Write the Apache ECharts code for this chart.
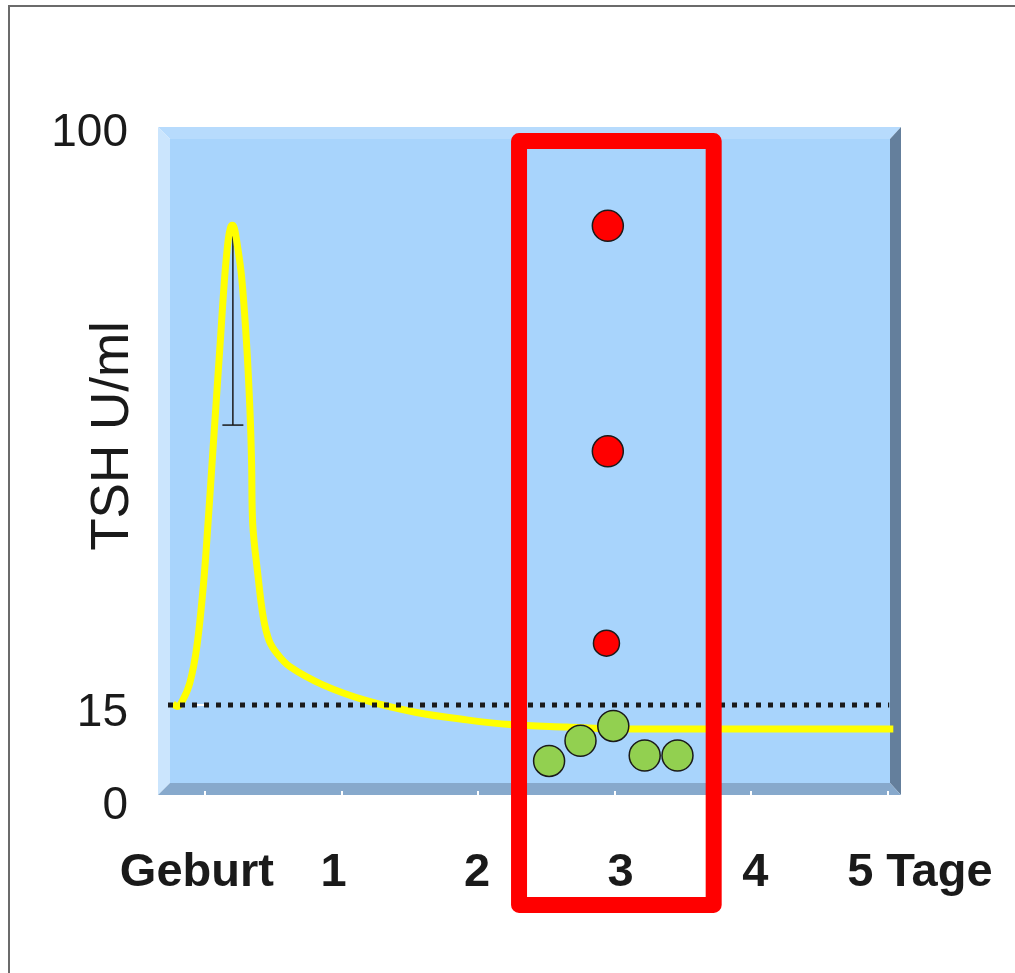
<!DOCTYPE html>
<html><head><meta charset="utf-8">
<script src="https://cdn.jsdelivr.net/npm/echarts@6/dist/echarts.min.js"></script>
<style>html,body{margin:0;padding:0;background:#fff}#c{width:1015px;height:973px}</style>
</head><body><div id="c"></div>
<script>
// ---- data ----
const dayTicks = [0, 1, 2, 3, 4, 5];
const dayLabels = ['Geburt', '1', '2', '3', '4', '5 Tage'];
const yLabelValues = [0, 15, 100];
const limitValue = 15;
const limitX = [-0.27, 5.01];
const curveX = [-0.235, -0.2, -0.16, -0.11, -0.06, -0.01, 0.026, 0.059, 0.112, 0.145, 0.17, 0.187, 0.2, 0.215, 0.235, 0.269, 0.305, 0.33, 0.342, 0.35, 0.39, 0.427, 0.47, 0.53, 0.622, 0.864, 1.184, 1.55, 1.916, 2.233, 2.65, 3.04, 5.04];
const curveY = [15.2, 14.8, 15.8, 18.3, 23.5, 33.0, 42.9, 52.9, 68.8, 78.6, 84.0, 85.9, 86.3, 85.9, 83.7, 78.6, 68.8, 58.8, 51.0, 42.0, 34.0, 28.1, 24.6, 22.6, 20.7, 18.0, 15.65, 13.9, 12.8, 12.1, 11.74, 11.45, 11.45];
const errX = [0.205];
const errHigh = [86.0];
const errLow = [56.6];
const redX = [2.95, 2.95, 2.94];
const redY = [86.2, 52.7, 24.2];
const greenX = [2.52, 2.75, 2.99, 3.22, 3.46];
const greenY = [6.7, 9.7, 11.9, 7.5, 7.5];
const boxDays = [2.30, 3.725];
const boxValues = [98.8, -14.7];

// ---- styles ----
const redSizes = [31, 31, 26];
const labelShift = [-8, -8, -1, 6, 4, 32];
const yLabelDrop = { 0: 0, 15: 8, 100: 0 };
const font = "'Liberation Sans', Arial, sans-serif";
const ink = '#1a1a1a';

const rich = {};
labelShift.forEach((s, i) => {
  rich['l' + i] = {
    fontSize: 47, fontWeight: 'bold', color: ink, fontFamily: font,
    padding: s >= 0 ? [0, 0, 0, 2 * s] : [0, -2 * s, 0, 0]
  };
});
const yRich = {};
yLabelValues.forEach(v => {
  yRich['y' + v] = { fontSize: 46, color: ink, fontFamily: font, padding: [2 * yLabelDrop[v], 0, 0, 0] };
});

const chart = echarts.init(document.getElementById('c'));
const option = {
  animation: false,
  grid: { left: 168, top: 133, width: 725.3, height: 673 },
  xAxis: {
    type: 'value', min: -0.27, max: 5.04,
    axisLine: { show: false }, splitLine: { show: false },
    axisTick: { show: true, inside: true, length: 15, customValues: dayTicks, lineStyle: { color: '#ffffff', width: 2 } },
    axisLabel: {
      customValues: dayTicks, margin: 44,
      formatter: v => { const i = dayTicks.indexOf(v); return '{l' + i + '|' + dayLabels[i] + '}'; },
      rich: rich
    }
  },
  yAxis: {
    type: 'value', min: 0, max: 100,
    axisLine: { show: false }, splitLine: { show: false },
    axisTick: { show: true, customValues: [limitValue], length: 10, lineStyle: { color: '#ffffff', width: 2 } },
    axisLabel: {
      customValues: yLabelValues, margin: 40,
      formatter: v => '{y' + v + '|' + v + '}',
      rich: yRich
    }
  },
  graphic: [
    { type: 'rect', z: -5, shape: { x: 9, y: 6, width: 1040, height: 1000 }, style: { fill: 'none', stroke: '#6b6b6b', lineWidth: 2 } },
    { type: 'rect', z: -5, shape: { x: 170, y: 139, width: 720, height: 644 }, style: { fill: '#a8d4fc' } },
    { type: 'polygon', z: -5, shape: { points: [[158, 127], [901, 127], [890, 139], [170, 139]] }, style: { fill: '#b7dbfd' } },
    { type: 'polygon', z: -5, shape: { points: [[158, 127], [170, 139], [170, 783], [158, 795]] }, style: { fill: '#cbe5fd' } },
    { type: 'polygon', z: -5, shape: { points: [[890, 139], [901, 127], [901, 795], [890, 783]] }, style: { fill: '#647f9c' } },
    { type: 'polygon', z: -5, shape: { points: [[158, 795], [170, 783], [890, 783], [901, 795]] }, style: { fill: '#87a9cc' } },
    { type: 'text', x: 113, y: 436, rotation: Math.PI / 2, style: { text: 'TSH U/ml', fontSize: 53, fontFamily: font, fill: ink, align: 'center', verticalAlign: 'middle' } }
  ],
  series: [
    {
      type: 'custom', z: 2, clip: false,
      data: errX.map((x, i) => [x, errHigh[i], errLow[i]]),
      renderItem: (params, api) => {
        const top = api.coord([api.value(0), api.value(1)]);
        const bot = api.coord([api.value(0), api.value(2)]);
        const st = { stroke: ink, lineWidth: 1.5 };
        return { type: 'group', children: [
          { type: 'line', shape: { x1: top[0], y1: top[1], x2: bot[0], y2: bot[1] }, style: st },
          { type: 'line', shape: { x1: bot[0] - 10.5, y1: bot[1], x2: bot[0] + 10.5, y2: bot[1] }, style: st }
        ] };
      }
    },
    {
      type: 'line', z: 3, clip: false, symbol: 'none', smooth: 0.35,
      data: curveX.map((x, i) => [x, curveY[i]]),
      lineStyle: { color: '#ffff00', width: 7, cap: 'butt', join: 'round' }
    },
    {
      type: 'line', z: 4, symbol: 'none',
      data: limitX.map(x => [x, limitValue]),
      lineStyle: { color: ink, width: 5, type: [5, 7], cap: 'butt' }
    },
    {
      type: 'scatter', z: 5, symbolSize: 31,
      data: greenX.map((x, i) => [x, greenY[i]]),
      itemStyle: { color: '#92d050', borderColor: ink, borderWidth: 1.5, opacity: 1 }
    },
    {
      type: 'scatter', z: 5,
      symbolSize: (v, p) => redSizes[p.dataIndex],
      data: redX.map((x, i) => [x, redY[i]]),
      itemStyle: { color: '#ff0000', borderColor: ink, borderWidth: 1.5, opacity: 1 }
    },
    {
      type: 'custom', z: 10, clip: false,
      data: [[boxDays[0], boxValues[0], boxDays[1], boxValues[1]]],
      renderItem: (params, api) => {
        const p1 = api.coord([api.value(0), api.value(1)]);
        const p2 = api.coord([api.value(2), api.value(3)]);
        return { type: 'rect', shape: { x: p1[0], y: p1[1], width: p2[0] - p1[0], height: p2[1] - p1[1] },
          style: { fill: 'none', stroke: '#ff0000', lineWidth: 16, lineJoin: 'round' } };
      }
    }
  ]
};
chart.setOption(option);
</script>
</body></html>
